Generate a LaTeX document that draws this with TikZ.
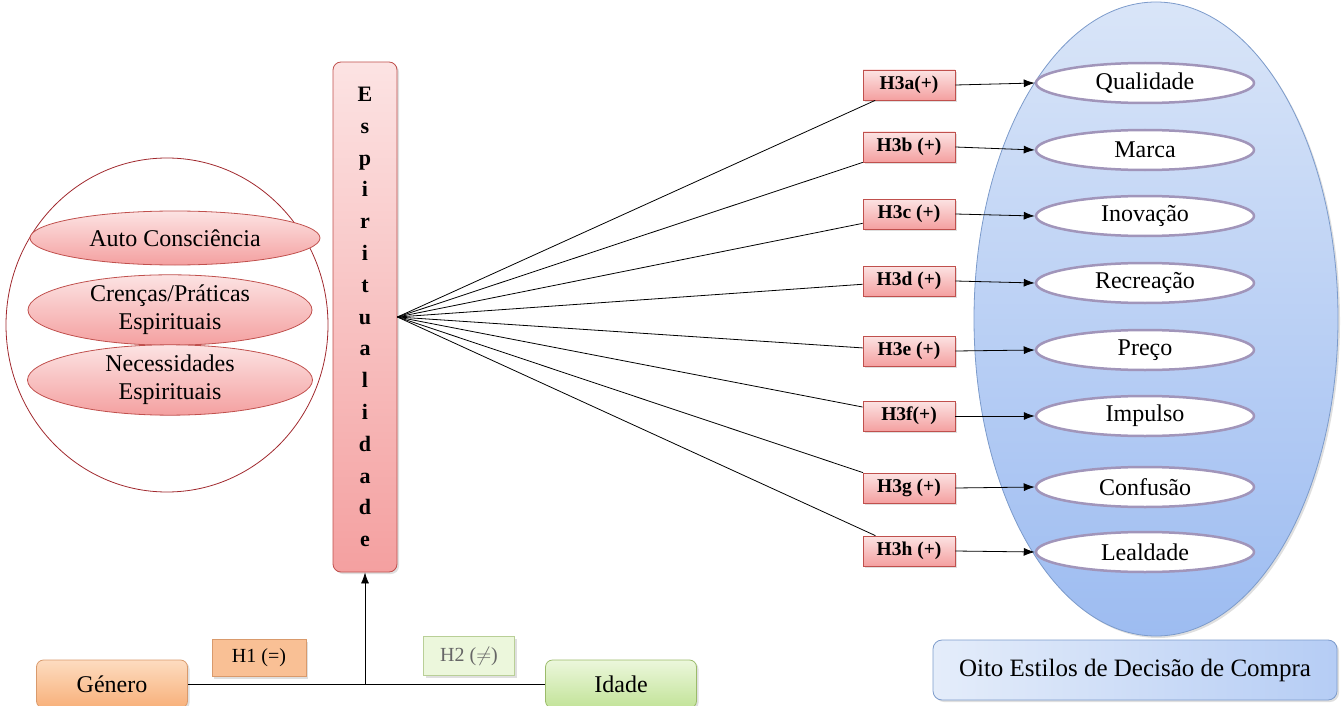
\documentclass[tikz,border=0pt]{standalone}
\usepackage{fontspec}
\setmainfont{Liberation Serif}
\usetikzlibrary{shapes.geometric,positioning,arrows.meta,shadows}
\definecolor{circred}{HTML}{A0282D}
\definecolor{pinktop}{HTML}{FCE3E3}
\definecolor{pinkbot}{HTML}{F4A0A0}
\definecolor{pinkline}{HTML}{C0504D}
\definecolor{bluetop}{HTML}{D9E5F8}
\definecolor{bluebot}{HTML}{9DBCF1}
\definecolor{blueline}{HTML}{7C9BCB}
\definecolor{lilac}{HTML}{A195BA}
\definecolor{orgtop}{HTML}{FDDCC0}
\definecolor{orgbot}{HTML}{F8B07A}
\definecolor{orgline}{HTML}{D99A6C}
\definecolor{grntop}{HTML}{ECF7DC}
\definecolor{grnbot}{HTML}{C2E398}
\definecolor{grnline}{HTML}{9BBB6A}
\begin{document}
\begin{tikzpicture}[x=1pt,y=-1pt,>={Latex[length=11pt,width=8pt]},line width=0.8pt,
  sombra/.style={drop shadow={shadow xshift=2pt,shadow yshift=-2pt,opacity=0.25}},
  crenca/.style={ellipse,draw=pinkline,top color=pinktop,bottom color=pinkbot,
    align=center,inner sep=0pt,font=\fontsize{24}{28}\selectfont},
  hbox/.style={rectangle,draw=pinkline,top color=pinktop,bottom color=pinkbot,sombra,
    minimum width=92pt,minimum height=30pt,inner sep=0pt,font=\fontsize{19.5}{22}\selectfont\bfseries},
  estilo/.style={ellipse,draw=lilac,line width=2.5pt,fill=white,
    minimum width=218pt,minimum height=40pt,inner sep=0pt,font=\fontsize{24}{28}\selectfont},
  basebox/.style={rectangle,rounded corners=7pt,minimum width=151pt,minimum height=48pt,sombra,
    inner sep=0pt,font=\fontsize{24}{28}\selectfont},
  hipo/.style={rectangle,inner sep=0pt,sombra,font=\fontsize{20}{22}\selectfont}]
\useasboundingbox (0,0) rectangle (1341,706);

% dimensoes da espiritualidade
\node[ellipse,draw=circred,minimum width=322pt,minimum height=334pt] (grupo) at (167,325) {};
\node[crenca,minimum width=290pt,minimum height=54pt] (auto) at (175,238) {Auto Consciência};
\node[crenca,minimum width=284pt,minimum height=64pt] (cren) at (170,310) {Crenças/Práticas\\Espirituais};
\node[crenca,minimum width=285pt,minimum height=64pt] (nece) at (170,380) {Necessidades\\Espirituais};

\node[rectangle,rounded corners=8pt,draw=pinkline,top color=pinktop,bottom color=pinkbot,sombra,
  minimum width=64pt,minimum height=510pt,inner sep=0pt,align=center,
  font=\fontsize{22}{31.8}\selectfont\bfseries] (esp) at (365,317)
  {E\\s\\p\\i\\r\\i\\t\\u\\a\\l\\i\\d\\a\\d\\e};

% estilos de decisao
\node[ellipse,draw=blueline,top color=bluetop,bottom color=bluebot,sombra,
  minimum width=364pt,minimum height=634pt] (oval) at (1156,319) {};
\foreach \n/\yh/\ye/\t/\e in {a/85/83/H3a(+)/Qualidade,b/147/150/H3b (+)/Marca,
    c/214/216/H3c (+)/Inovação,d/281/283/H3d (+)/Recreação,e/351/350/H3e (+)/Preço,
    f/416/416/H3f(+)/Impulso,g/488/487/H3g (+)/Confusão,h/551/552/H3h (+)/Lealdade}{
  \node[hbox] (h\n) at (909,\yh) {\t};
  \node[estilo] (e\n) at (1145,\ye) {\e};
  \draw (esp.east) -- (h\n);
  \draw[->] (h\n.east) -- (e\n.west);
}
\node[rectangle,rounded corners=9pt,draw=blueline,left color=bluetop!70!white,right color=bluebot!75!white,sombra,
  minimum width=404pt,minimum height=60pt,font=\fontsize{25}{28}\selectfont] (oito) at (1135,670)
  {Oito Estilos de Decisão de Compra};

% genero e idade
\node[basebox,draw=orgline,top color=orgtop,bottom color=orgbot] (gen) at (112,684) {Género};
\node[basebox,draw=grnline,top color=grntop,bottom color=grnbot] (ida) at (621,684) {Idade};
\node[hipo,draw=orgline,fill=orgbot!80!white,minimum width=94pt,minimum height=37pt] (h1) at (259,658) {H1 (=)};
\node[hipo,draw=grnline!70!white,fill=grntop,text=black!60,minimum width=91pt,minimum height=39pt] (h2) at (469,656) {H2 ($\neq$)};
\coordinate (junc) at (esp.south |- gen.east);
\draw (gen.east) -- (ida.west);
\draw[->] (junc) -- (esp.south);
\end{tikzpicture}
\end{document}
